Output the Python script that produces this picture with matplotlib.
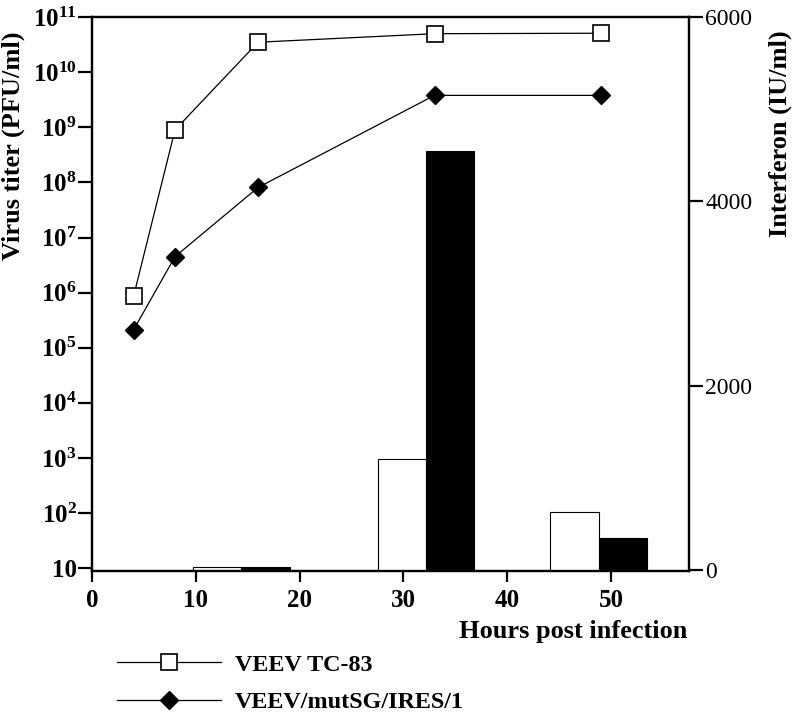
import matplotlib
matplotlib.use("Agg")
import matplotlib.pyplot as plt
from matplotlib.ticker import FixedLocator, FixedFormatter, NullLocator

plt.rcParams["font.family"] = "Liberation Serif"
plt.rcParams["font.weight"] = "bold"
plt.rcParams["mathtext.fontset"] = "custom"
plt.rcParams["mathtext.rm"] = "Liberation Serif:bold"
plt.rcParams["mathtext.it"] = "Liberation Serif:bold"
plt.rcParams["mathtext.bf"] = "Liberation Serif:bold"

# virus titer (PFU/ml), left log axis
hours = [4, 8, 16, 33, 49]
tc83_titer = [8.5e5, 9e8, 3.5e10, 5e10, 5.1e10]
mut_titer = [2.1e5, 4.5e6, 8.1e7, 3.8e9, 3.8e9]

# interferon (IU/ml), right linear axis
ifn_hours = [14.4, 32.2, 48.8]
tc83_ifn = [30, 1210, 630]
mut_ifn = [30, 4550, 350]

left_ticks = [1e1, 1e2, 1e3, 1e4, 1e5, 1e6, 1e7, 1e8, 1e9, 1e10, 1e11]
left_labels = ["10"] + [r"$10^{%d}$" % k for k in range(2, 12)]
right_ticks = [0, 2000, 4000, 6000]
x_ticks = [0, 10, 20, 30, 40, 50]

bar_w = 4.65

fig = plt.figure(figsize=(8, 7.13), dpi=100)
ax = fig.add_axes([0.115, 0.199, 0.746, 0.777])
ax2 = ax.twinx()

ax.set_yscale("log")
ax.set_ylim(8.82, 1e11)
ax.set_xlim(0, 57.5)
ax.yaxis.set_major_locator(FixedLocator(left_ticks))
ax.yaxis.set_major_formatter(FixedFormatter(left_labels))
ax.yaxis.set_minor_locator(NullLocator())
ax.set_xticks(x_ticks)

l1, = ax.plot(hours, tc83_titer, "-", color="black", lw=0.9, marker="s",
              ms=12, mfc="white", mec="black", mew=1.2, label="VEEV TC-83")
l2, = ax.plot(hours, mut_titer, "-", color="black", lw=0.9, marker="D",
              ms=9, mfc="black", mec="black", label="VEEV/mutSG/IRES/1")

ax2.bar([h - bar_w / 2 for h in ifn_hours], tc83_ifn, width=bar_w,
        color="white", edgecolor="black", linewidth=0.8)
ax2.bar([h + bar_w / 2 for h in ifn_hours], mut_ifn, width=bar_w,
        color="black", edgecolor="black", linewidth=0.8)
ax2.set_ylim(-11, 6000)
ax2.set_yticks(right_ticks)

for a in (ax, ax2):
    for s in a.spines.values():
        s.set_linewidth(1.6)

ax.tick_params(axis="y", which="major", direction="out", length=10, width=1.6,
               labelsize=18, pad=1)
ax.tick_params(axis="x", direction="out", length=8, width=1.6, labelsize=18, pad=5)
ax2.tick_params(axis="y", direction="out", length=10, width=1.6, labelsize=17, pad=2)
for t in ax2.get_yticklabels():
    t.set_fontweight("normal")

fig.text(0.017, 0.795, "Virus titer (PFU/ml)", rotation=90, ha="center", va="center",
         fontsize=19, fontweight="bold")
fig.text(0.975, 0.812, "Interferon (IU/ml)", rotation=90, ha="center", va="center",
         fontsize=19, fontweight="bold")
fig.text(0.859, 0.114, "Hours post infection", ha="right", va="center",
         fontsize=19, fontweight="bold")

fig.legend(handles=[l1, l2], loc="upper left", bbox_to_anchor=(0.146, 0.083),
           frameon=False, fontsize=17.4, handlelength=4.3, handletextpad=0.6,
           labelspacing=0.65, borderpad=0, borderaxespad=0)

fig.savefig("out.png", dpi=100)
